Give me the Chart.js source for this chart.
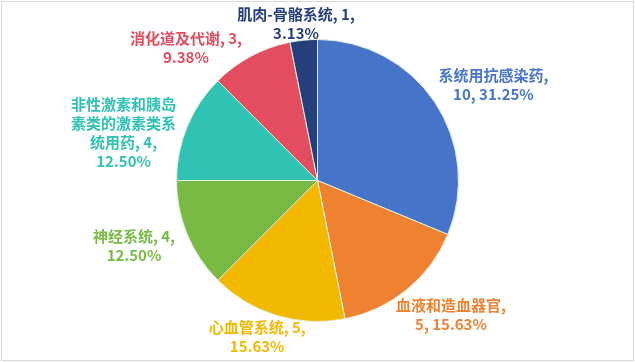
<!DOCTYPE html>
<html><head><meta charset="utf-8">
<script src="https://cdn.jsdelivr.net/npm/chart.js@4"></script>
<style>
html,body{margin:0;padding:0;background:#fff;}
#wrap{position:relative;width:635px;height:362px;overflow:hidden;}
#frame{position:absolute;left:1px;top:1px;width:631px;height:358px;border:1px solid #d9d9d9;pointer-events:none;}
canvas{position:absolute;left:0;top:0;}
</style></head><body>
<div id="wrap"><canvas id="c" width="635" height="362"></canvas><div id="frame"></div></div>
<script>
const categories = ['系统用抗感染药', '血液和造血器官', '心血管系统', '神经系统', '非性激素和胰岛素类的激素类系统用药', '消化道及代谢', '肌肉-骨骼系统'];
const values = [10, 5, 5, 4, 4, 3, 1];
const colors = ['#4674C9', '#EE8230', '#F2B900', '#78BA43', '#30C2B3', '#E44C5F', '#253F7C'];
const nameWrap = [0, 0, 0, 0, 7, 0, 0];
const labelFormats = ['{n},\n{v}, {p}', '{n},\n{v}, {p}', '{n}, {v},\n{p}', '{n}, {v},\n{p}', '{n}, {v},\n{p}', '{n}, {v},\n{p}', '{n}, {v},\n{p}'];

const total = values.reduce((a, b) => a + b, 0);

const labelPlugin = {
  id: 'outLabels',
  afterDatasetsDraw(chart, args, opts) {
    const ctx = chart.ctx;
    const meta = chart.getDatasetMeta(0);
    ctx.save();
    ctx.font = opts.font;
    ctx.textAlign = 'center';
    ctx.textBaseline = 'middle';
    meta.data.forEach((arc, i) => {
      const p = arc.getProps(['x', 'y', 'startAngle', 'endAngle', 'outerRadius'], true);
      const mid = (p.startAngle + p.endAngle) / 2 + opts.angleDelta[i] * Math.PI / 180;
      const r = p.outerRadius * opts.radiusFactor[i];
      const cx = p.x + r * Math.cos(mid);
      const cy = p.y + r * Math.sin(mid);
      let name = categories[i];
      if (nameWrap[i] > 0) {
        const parts = [];
        for (let k = 0; k < name.length; k += nameWrap[i]) parts.push(name.slice(k, k + nameWrap[i]));
        name = parts.join('\n');
      }
      const pct = (values[i] / total * 100).toFixed(2) + '%';
      const text = labelFormats[i].replace('{n}', name).replace('{v}', values[i]).replace('{p}', pct);
      const lines = text.split('\n');
      const lh = opts.lineHeight;
      const y0 = cy - (lines.length - 1) * lh / 2;
      ctx.fillStyle = colors[i];
      lines.forEach((ln, j) => ctx.fillText(ln, cx, y0 + j * lh));
    });
    ctx.restore();
  }
};

new Chart(document.getElementById('c'), {
  type: 'pie',
  data: {
    labels: categories,
    datasets: [{
      data: values,
      backgroundColor: colors,
      borderColor: '#e4f0dc',
      borderWidth: 1
    }]
  },
  options: {
    responsive: false,
    animation: false,
    layout: { padding: { top: 39, bottom: 40, left: 0, right: 0 } },
    plugins: {
      legend: { display: false },
      tooltip: { enabled: false },
      outLabels: {
        font: 'bold 15px "Noto Sans CJK SC", sans-serif',
        lineHeight: 19,
        angleDelta: [5.25, -5.4, 4.2, 2.85, -8.74, -16.7, -2.2],
        radiusFactor: [1.42, 1.344, 1.19, 1.382, 1.416, 1.324, 1.12]
      }
    }
  },
  plugins: [labelPlugin]
});
</script>
</body></html>
